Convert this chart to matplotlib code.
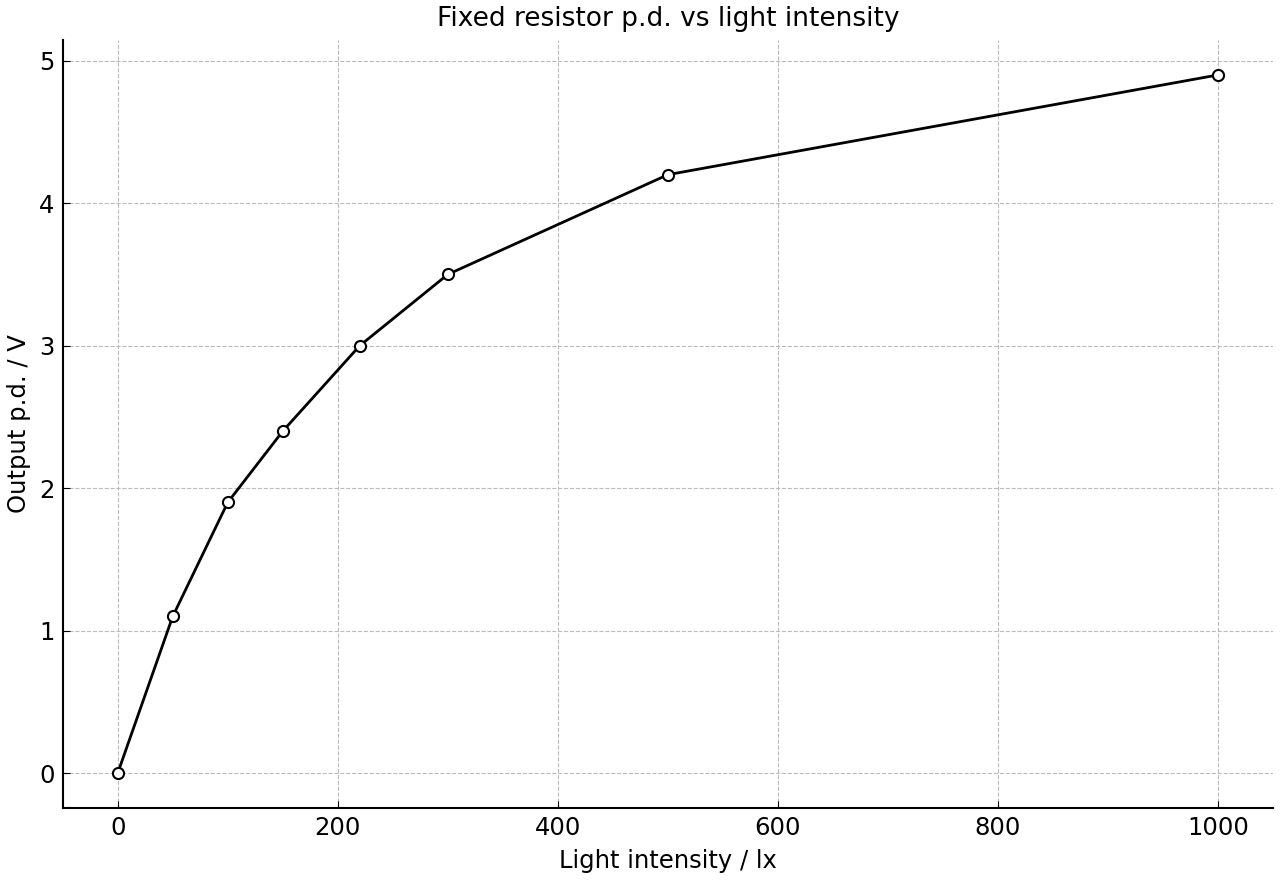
import matplotlib
matplotlib.use("Agg")
import matplotlib.pyplot as plt

# light intensity (lx) vs output p.d. (V)
light_lx = [0, 50, 100, 150, 220, 300, 500, 1000]
output_v = [0, 1.1, 1.9, 2.4, 3.0, 3.5, 4.2, 4.9]


def main():
    fig, ax = plt.subplots(figsize=(12.8, 8.8), dpi=100)
    fig.subplots_adjust(left=0.049, right=0.9945, top=0.9545, bottom=0.0818)

    ax.plot(light_lx, output_v, color="black", linewidth=2, marker="o",
            markersize=8, markerfacecolor="white", markeredgecolor="black",
            markeredgewidth=1.5, zorder=3)

    ax.set_title("Fixed resistor p.d. vs light intensity", fontsize=19, pad=10)
    ax.set_xlabel("Light intensity / lx", fontsize=17.5, labelpad=6)
    ax.set_ylabel("Output p.d. / V", fontsize=17.5, labelpad=6)
    ax.tick_params(direction="in", labelsize=17.5, length=5, pad=6)
    ax.grid(True, linestyle="--", color="#bbbbbb", linewidth=0.8)
    ax.spines["top"].set_visible(False)
    ax.spines["right"].set_visible(False)
    ax.spines["left"].set_linewidth(1.5)
    ax.spines["bottom"].set_linewidth(1.5)

    fig.savefig("out.png", dpi=100)


if __name__ == "__main__":
    main()
